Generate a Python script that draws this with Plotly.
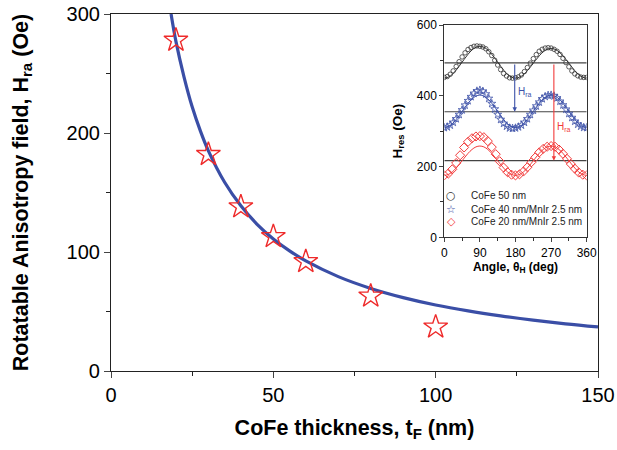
import plotly.graph_objects as go

# ---------------- main data ----------------
thick_pts = [20, 30, 40, 50, 60, 80, 100]
hra_pts = [278, 182, 138, 113, 92, 63, 37]

fit_t = [18.5, 20, 22.5, 25, 27.5, 30, 35, 40, 45, 50, 55, 60, 70, 80, 90, 100, 110, 120, 130, 140, 150]
fit_h = [300, 277, 247, 222, 202, 185, 158.6, 138.8, 123.3, 111, 101, 92.5, 79.3, 69.4, 61.7, 55.5, 50.5, 46.3, 42.7, 39.6, 37]

# ---------------- inset data ----------------
ang75 = [i * 7.5 for i in range(49)]
cofe50 = [452, 454.5, 461, 470.5, 483, 496.5, 510, 521.5, 531, 536.5, 540, 541, 540, 538, 533, 524.5, 514,
          500.5, 487, 474, 463, 456, 451, 450, 451, 453.5, 459, 468.5, 480, 492.5, 505, 516.5, 526, 531.5,
          535, 536, 535, 531.5, 526, 517, 506, 494, 482, 470.5, 462, 456.5, 453, 452, 452]
cofe40 = [310, 312, 317, 325, 335, 347, 360, 373.5, 386, 397.5, 407, 413.5, 416, 413, 405, 392.5, 378,
          362.5, 347, 333, 322, 314, 309, 308, 309, 312, 317, 325, 335, 347, 359, 371, 382, 391.5, 398,
          401.5, 402, 399.5, 394, 384.5, 374, 362, 350, 338.5, 328, 319.5, 314, 310.5, 310]
ang10 = list(range(0, 361, 10))
cofe20 = [175, 180, 192, 210, 232, 254, 270, 280, 285, 286, 283, 272, 255, 235, 215, 197, 184, 177, 175,
          178, 186, 198, 212, 226, 240, 250, 256, 258, 256, 248, 236, 222, 207, 194, 183, 177, 175]

fit50 = [450, 452.7, 460.5, 472.5, 487.2, 502.8, 517.5, 529.5, 537.3, 540, 537.3, 529.5, 517.5, 502.8, 487.2,
         472.5, 460.5, 452.7, 450, 452.5, 459.8, 471, 484.7, 499.3, 513, 524.2, 531.5, 534, 531.5, 524.2,
         513, 499.3, 484.7, 471, 459.8, 452.5, 450]
fit40 = [310, 312.8, 320.8, 333, 348, 364, 379, 391.2, 399.2, 402, 399.2, 391.2, 379, 364, 348, 333, 320.8,
         312.8, 310, 312.8, 320.8, 333, 348, 364, 379, 391.2, 399.2, 402, 399.2, 391.2, 379, 364, 348, 333,
         320.8, 312.8, 310]
fit20 = [175, 177.5, 184.7, 195.8, 209.3, 223.7, 237.3, 248.3, 255.6, 258, 255.6, 248.3, 237.3, 223.7, 209.3,
         195.8, 184.7, 177.5, 175, 177.5, 184.7, 195.8, 209.3, 223.7, 237.3, 248.3, 255.6, 258, 255.6, 248.3,
         237.3, 223.7, 209.3, 195.8, 184.7, 177.5, 175]

ref_levels = [493, 355, 217]
ang_span = [0, 360]
blue_arrow = dict(x=178, y_top=493, y_bot=355)
red_arrow = dict(x=277, y_top=493, y_bot=217)

legend_names = ["CoFe 50 nm", "CoFe 40 nm/MnIr 2.5 nm", "CoFe 20 nm/MnIr 2.5 nm"]
legend_glyphs = ["○", "☆", "◇"]
legend_rows = [117, 80, 44]

BLUE = "#3a4ea6"
RED = "#ee2a2a"
IBLUE = "#3d52a8"
IRED = "#f23b3b"
DARK = "#333333"
FONT = "Liberation Sans, Arial, sans-serif"

fig = go.Figure()

# main fit curve
fig.add_trace(go.Scatter(x=fit_t, y=fit_h, mode="lines", line=dict(color=BLUE, width=3.2, shape="spline"),
                         showlegend=False, hoverinfo="skip"))
fig.add_trace(go.Scatter(x=thick_pts, y=hra_pts, mode="markers",
                         marker=dict(symbol="star-open", size=18, color=RED, line=dict(color=RED, width=1.4)),
                         showlegend=False))

# inset reference lines
for lv in ref_levels:
    fig.add_trace(go.Scatter(x=ang_span, y=[lv, lv], mode="lines", xaxis="x2", yaxis="y2",
                             line=dict(color="#444444", width=1.2), showlegend=False, hoverinfo="skip"))

# inset fit lines
fig.add_trace(go.Scatter(x=ang10, y=fit50, mode="lines", xaxis="x2", yaxis="y2", line=dict(color=DARK, width=1, shape="spline"), showlegend=False))
fig.add_trace(go.Scatter(x=ang10, y=fit40, mode="lines", xaxis="x2", yaxis="y2", line=dict(color=IBLUE, width=1, shape="spline"), showlegend=False))
fig.add_trace(go.Scatter(x=ang10, y=fit20, mode="lines", xaxis="x2", yaxis="y2", line=dict(color=IRED, width=1, shape="spline"), showlegend=False))

# inset data
fig.add_trace(go.Scatter(x=ang75, y=cofe50, mode="markers", xaxis="x2", yaxis="y2", name=legend_names[0], showlegend=False,
                         marker=dict(symbol="circle-open", size=4.5, color=DARK, line=dict(width=0.8, color=DARK))))
fig.add_trace(go.Scatter(x=ang75, y=cofe40, mode="markers", xaxis="x2", yaxis="y2", name=legend_names[1], showlegend=False,
                         marker=dict(symbol="star-open", size=6, color=IBLUE, line=dict(width=0.8, color=IBLUE))))
fig.add_trace(go.Scatter(x=ang10, y=cofe20, mode="markers", xaxis="x2", yaxis="y2", name=legend_names[2], showlegend=False,
                         marker=dict(symbol="diamond-open", size=7, color=IRED, line=dict(width=1, color=IRED))))

annotations = []
for arr, col in ((blue_arrow, IBLUE), (red_arrow, IRED)):
    annotations.append(dict(x=arr["x"], y=arr["y_bot"], ax=arr["x"], ay=arr["y_top"], xref="x2", yref="y2",
                            axref="x2", ayref="y2", showarrow=True, arrowhead=2, arrowsize=0.8, arrowwidth=1.1,
                            arrowcolor=col, text=""))
annotations.append(dict(x=blue_arrow["x"] + 3, y=412, xref="x2", yref="y2", text="H<sub>ra</sub>", showarrow=False,
                        xanchor="left", font=dict(size=10, color=IBLUE, family=FONT)))
annotations.append(dict(x=red_arrow["x"] + 3, y=312, xref="x2", yref="y2", text="H<sub>ra</sub>", showarrow=False,
                        xanchor="left", font=dict(size=10, color=IRED, family=FONT)))

# legend drawn as text inside the inset
for name, glyph, row, col in zip(legend_names, legend_glyphs, legend_rows, (DARK, IBLUE, IRED)):
    annotations.append(dict(x=17, y=row, xref="x2", yref="y2", text=glyph, showarrow=False, xanchor="center",
                            font=dict(size=11, color=col, family="DejaVu Sans")))
    annotations.append(dict(x=62, y=row, xref="x2", yref="y2", text=name, showarrow=False, xanchor="left",
                            font=dict(size=10, color="#222", family=FONT)))

fig.update_layout(
    width=617, height=450,
    margin=dict(l=111, r=19, t=14, b=79),
    paper_bgcolor="white", plot_bgcolor="rgba(0,0,0,0)",
    font=dict(family=FONT, color="black"),
    annotations=annotations,
    showlegend=False,
    xaxis=dict(range=[0, 150], tickvals=[0, 50, 100, 150], ticks="outside", ticklen=6, tickwidth=1.2,
               showline=True, linecolor="#222", linewidth=1.2, mirror=True, showgrid=False, zeroline=False,
               tickfont=dict(size=20, family=FONT), automargin=False, ticklabeloverflow="allow",
               minor=dict(tickvals=[25, 75, 125], ticks="outside", ticklen=4, tickcolor="#222"),
               title=dict(text="<b>CoFe thickness, t<sub>F</sub> (nm)</b>", font=dict(size=21.5, family=FONT), standoff=14)),
    yaxis=dict(range=[0, 300], tickvals=[0, 100, 200, 300], ticks="outside", ticklen=6, tickwidth=1.2,
               showline=True, linecolor="#222", linewidth=1.2, mirror=True, showgrid=False, zeroline=False,
               tickfont=dict(size=20, family=FONT), automargin=False, ticklabeloverflow="allow",
               minor=dict(tickvals=[50, 150, 250], ticks="outside", ticklen=4, tickcolor="#222"),
               title=dict(text="<b>Rotatable Anisotropy field, H<sub>ra</sub> (Oe)</b>", font=dict(size=21.5, family=FONT), standoff=32)),
    xaxis2=dict(domain=[0.6844, 0.9768], anchor="y2", range=[0, 360], tickvals=[0, 90, 180, 270, 360],
                ticks="outside", ticklen=4, showline=True, linecolor="#333", linewidth=1, mirror=True,
                showgrid=False, zeroline=False, tickfont=dict(size=12, family=FONT), automargin=False,
                minor=dict(tickvals=[45, 135, 225, 315], ticks="outside", ticklen=3, tickcolor="#333"),
                title=dict(text="<b>Angle, θ<sub>H</sub> (deg)</b>", font=dict(size=12, family=FONT), standoff=3)),
    yaxis2=dict(domain=[0.3745, 0.969], anchor="x2", range=[0, 600], tickvals=[0, 200, 400, 600],
                ticks="outside", ticklen=4, showline=True, linecolor="#333", linewidth=1, mirror=True,
                showgrid=False, zeroline=False, tickfont=dict(size=12, family=FONT), automargin=False,
                minor=dict(tickvals=[100, 300, 500], ticks="outside", ticklen=3, tickcolor="#333"),
                title=dict(text="<b>H<sub>res</sub> (Oe)</b>", font=dict(size=13.5, family=FONT), standoff=11)),
)

# remove the browser's default 8px body margin so the 617x450 figure fills the window exactly
fig.write_html("out.html", config={"displayModeBar": False},
               post_script="document.body.style.margin='0';document.body.style.overflow='hidden';")
